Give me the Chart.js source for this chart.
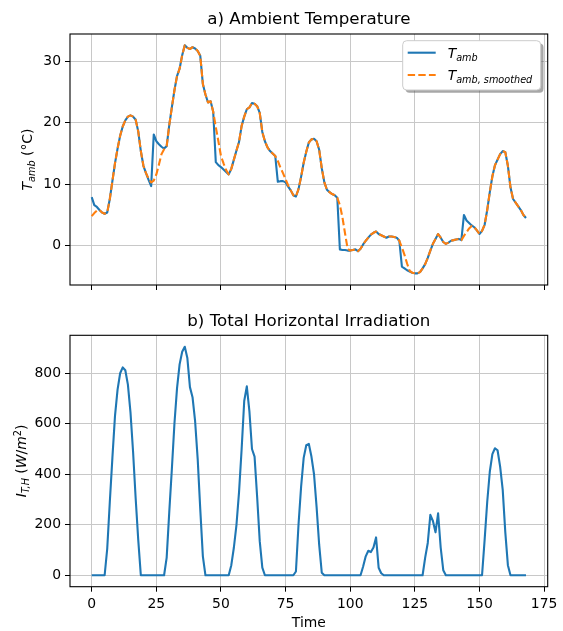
<!DOCTYPE html>
<html>
<head>
<meta charset="utf-8">
<script src="https://cdn.jsdelivr.net/npm/chart.js@4.4.1/dist/chart.umd.min.js"></script>
<style>
  body { margin: 0; background: #fff; }
  canvas { display: block; }
</style>
</head>
<body>
<canvas id="temp" width="563" height="310" style="width:563px;height:310px"></canvas>
<canvas id="irr" width="563" height="321" style="width:563px;height:321px"></canvas>
<script>
// hourly values, hour 0 .. 168 (one row per day)
const tAmb = [
  7.9, 6.6, 6.3, 5.8, 5.4, 5.2, 5.4, 7.6, 10.5, 13.4, 15.8, 17.9, 19.4, 20.4, 21.0, 21.2, 21.0, 20.5, 18.6, 15.4, 13.0, 11.8, 10.7, 9.7,
  18.1, 17.0, 16.5, 16.1, 15.8, 16.2, 19.6, 22.5, 25.3, 27.6, 28.8, 31.0, 32.6, 32.2, 32.0, 32.3, 32.1, 31.7, 30.9, 26.3, 24.6, 23.3, 23.5, 21.8,
  13.6, 13.1, 12.8, 12.4, 12.0, 11.6, 12.5, 14.0, 15.5, 16.9, 19.5, 21.0, 22.2, 22.5, 23.2, 23.1, 22.7, 21.6, 18.5, 17.0, 16.0, 15.4, 15.0, 14.6,
  10.4, 10.5, 10.5, 10.3, 9.6, 9.0, 8.2, 8.0, 9.2, 11.2, 13.5, 15.3, 16.8, 17.3, 17.4, 17.0, 15.6, 12.6, 10.3, 9.1, 8.7, 8.4, 8.2, 7.8,
  -0.6, -0.7, -0.7, -0.8, -0.8, -0.7, -0.6, -0.9, -0.5, 0.2, 0.8, 1.3, 1.8, 2.1, 2.3, 1.9, 1.7, 1.5, 1.3, 1.5, 1.5, 1.4, 1.3, 0.8,
  -3.4, -3.7, -4.0, -4.2, -4.4, -4.5, -4.5, -4.3, -3.7, -3.0, -2.0, -0.8, 0.3, 1.1, 1.9, 1.3, 0.6, 0.3, 0.5, 0.8, 0.9, 1.0, 1.1, 0.9,
  5.0, 4.1, 3.7, 3.3, 3.0, 2.5, 1.9, 2.4, 3.4, 5.8, 8.7, 11.3, 13.1, 14.0, 14.9, 15.4, 15.2, 13.0, 9.5, 7.6, 7.0, 6.4, 5.8, 5.0, 4.5
];
const tAmbSmoothed = [
  4.8, 5.3, 5.7, 5.8, 5.4, 5.2, 5.4, 7.6, 10.5, 13.4, 15.8, 17.9, 19.4, 20.4, 21.0, 21.2, 21.0, 20.5, 18.6, 15.4, 13.0, 11.8, 10.9, 10.3,
  10.6, 11.6, 13.2, 14.9, 15.7, 16.2, 19.6, 22.5, 25.3, 27.6, 28.8, 31.0, 32.6, 32.2, 32.0, 32.3, 32.1, 31.7, 30.9, 26.3, 24.6, 23.3, 23.5, 21.8,
  19.3, 17.0, 14.6, 13.4, 12.3, 11.6, 12.5, 14.0, 15.5, 16.9, 19.5, 21.0, 22.2, 22.5, 23.2, 23.1, 22.7, 21.6, 18.5, 17.0, 16.0, 15.4, 15.0, 14.6,
  13.8, 12.7, 11.8, 10.8, 9.8, 9.0, 8.2, 8.0, 9.2, 11.2, 13.5, 15.3, 16.8, 17.3, 17.4, 17.0, 15.6, 12.6, 10.3, 9.1, 8.7, 8.4, 8.2, 7.8,
  6.6, 4.6, 2.0, -0.5, -0.8, -0.7, -0.6, -0.9, -0.5, 0.2, 0.8, 1.3, 1.8, 2.1, 2.3, 1.9, 1.7, 1.5, 1.3, 1.5, 1.5, 1.4, 1.3, 0.8,
  -0.3, -1.5, -2.9, -4.1, -4.4, -4.5, -4.5, -4.3, -3.7, -3.0, -2.0, -0.8, 0.3, 1.1, 1.9, 1.3, 0.6, 0.3, 0.5, 0.8, 0.9, 1.0, 1.1, 0.9,
  1.6, 2.2, 2.8, 3.2, 3.0, 2.5, 1.9, 2.4, 3.4, 5.8, 8.7, 11.3, 13.1, 14.0, 14.9, 15.4, 15.2, 13.0, 9.5, 7.6, 7.0, 6.4, 5.8, 5.0, 4.5
];
const irradiation = [
  0, 0, 0, 0, 0, 0, 105, 290, 465, 630, 735, 800, 823, 812, 755, 645, 489, 305, 140, 0, 0, 0, 0, 0,
  0, 0, 0, 0, 0, 70, 250, 420, 600, 740, 835, 885, 905, 860, 745, 705, 610, 460, 260, 75, 0, 0, 0, 0,
  0, 0, 0, 0, 0, 0, 40, 110, 200, 330, 500, 690, 748, 650, 500, 470, 310, 135, 30, 0, 0, 0, 0, 0,
  0, 0, 0, 0, 0, 0, 0, 15, 200, 350, 465, 515, 520, 470, 400, 270, 120, 10, 0, 0, 0, 0, 0, 0,
  0, 0, 0, 0, 0, 0, 0, 0, 0, 35, 75, 97, 92, 110, 150, 30, 8, 0, 0, 0, 0, 0, 0, 0,
  0, 0, 0, 0, 0, 0, 0, 0, 0, 70, 128, 239, 215, 170, 245, 110, 20, 0, 0, 0, 0, 0, 0, 0,
  0, 0, 0, 0, 0, 0, 0, 0, 140, 290, 410, 480, 503, 495, 430, 338, 170, 40, 0, 0, 0, 0, 0, 0, 0
];
const timeTicks = [0, 25, 50, 75, 100, 125, 150, 175];
const tempTicks = [0, 10, 20, 30];
const irrTicks = [0, 200, 400, 600, 800];

const FONT = "'DejaVu Sans', sans-serif";
const BLUE = '#1f77b4';
const ORANGE = '#ff7f0e';
const SUB = 9.7;
const BASE = 13.9;

Chart.defaults.font.family = FONT;
Chart.defaults.font.size = BASE;
Chart.defaults.color = '#000';

const toXY = arr => arr.map((y, i) => ({ x: i, y }));

// draw a run of text pieces (italic / sub / superscript)
function richText(ctx, parts, x, y, align) {
  let w = 0;
  parts.forEach(p => {
    ctx.font = `${p.italic ? 'italic ' : ''}${p.size || BASE}px ${FONT}`;
    p.w = ctx.measureText(p.t).width;
    w += p.w;
  });
  let cx = align === 'center' ? x - w / 2 : x;
  parts.forEach(p => {
    ctx.font = `${p.italic ? 'italic ' : ''}${p.size || BASE}px ${FONT}`;
    ctx.fillText(p.t, cx, y + (p.dy || 0));
    cx += p.w;
  });
}

const decor = {
  id: 'decor',
  afterDraw(chart, args, opts) {
    const { ctx, chartArea: a } = chart;
    ctx.save();
    ctx.strokeStyle = '#000';
    ctx.lineWidth = 1.1;
    ctx.strokeRect(a.left, a.top, a.right - a.left, a.bottom - a.top);

    ctx.fillStyle = '#000';
    ctx.textAlign = 'left';
    ctx.textBaseline = 'alphabetic';
    const mid = (a.left + a.right) / 2;
    richText(ctx, opts.title, mid, opts.titleY, 'center');
    if (opts.xLabel) richText(ctx, opts.xLabel, mid, opts.xLabelY, 'center');

    ctx.save();
    ctx.translate(opts.yLabelX, (a.top + a.bottom) / 2);
    ctx.rotate(-Math.PI / 2);
    richText(ctx, opts.yLabel, 0, 0, 'center');
    ctx.restore();

    if (opts.legend) {
      const L = opts.legend;
      ctx.fillStyle = 'rgba(80,80,80,0.5)';
      ctx.beginPath();
      ctx.roundRect(L.x + 2.8, L.y + 2.8, L.w, L.h, 4);
      ctx.fill();
      ctx.fillStyle = '#fff';
      ctx.strokeStyle = '#cccccc';
      ctx.lineWidth = 1;
      ctx.beginPath();
      ctx.roundRect(L.x, L.y, L.w, L.h, 4);
      ctx.fill();
      ctx.stroke();
      L.items.forEach((it, i) => {
        const yc = L.y + L.rowTop + i * L.rowGap;
        ctx.strokeStyle = it.color;
        ctx.lineWidth = 2.1;
        ctx.setLineDash(it.dash || []);
        ctx.beginPath();
        ctx.moveTo(L.x + 5, yc);
        ctx.lineTo(L.x + 5 + 28, yc);
        ctx.stroke();
        ctx.setLineDash([]);
        ctx.fillStyle = '#000';
        richText(ctx, it.label, L.x + 45, yc + 5, 'left');
      });
    }
    ctx.restore();
  }
};

function axisX(showLabels, height) {
  return {
    type: 'linear',
    min: -8.4,
    max: 176.4,
    afterBuildTicks: s => { s.ticks = timeTicks.map(v => ({ value: v })); },
    afterFit: s => { s.height = height; },
    ticks: {
      autoSkip: false,
      maxRotation: 0,
      padding: 4,
      callback: v => (showLabels ? String(v) : '')
    },
    grid: { color: '#c8c8c8', lineWidth: 1, tickColor: '#000', tickLength: 5 },
    border: { display: false }
  };
}

function axisY(min, max, tickVals) {
  return {
    min,
    max,
    afterBuildTicks: s => { s.ticks = tickVals.map(v => ({ value: v })); },
    afterFit: s => { s.width = 70; },
    ticks: { padding: 4, callback: v => String(v) },
    grid: { color: '#c8c8c8', lineWidth: 1, tickColor: '#000', tickLength: 5 },
    border: { display: false }
  };
}

const common = {
  responsive: false,
  animation: false,
  events: [],
  elements: { point: { radius: 0 }, line: { tension: 0, borderWidth: 2.1, borderJoinStyle: 'round' } }
};

new Chart(document.getElementById('temp'), {
  type: 'line',
  data: {
    datasets: [
      { data: toXY(tAmb), borderColor: BLUE, order: 1 },
      { data: toXY(tAmbSmoothed), borderColor: ORANGE, borderDash: [7.4, 3.2], order: 0 }
    ]
  },
  options: {
    ...common,
    layout: { padding: { top: 34, right: 15.3, bottom: 0, left: 0 } },
    scales: { x: axisX(false, 25), y: axisY(-6.4, 34.45, tempTicks) },
    plugins: {
      legend: { display: false },
      tooltip: { enabled: false },
      decor: {
        title: [{ t: 'a) Ambient Temperature', size: 16.7 }],
        titleY: 24,
        yLabelX: 32,
        yLabel: [
          { t: 'T', italic: true },
          { t: 'amb', italic: true, size: SUB, dy: 3 },
          { t: ' (°C)' }
        ],
        legend: {
          x: 402.7, y: 40.7, w: 138, h: 49.3, rowTop: 12, rowGap: 22.3,
          items: [
            { color: BLUE, label: [{ t: 'T', italic: true }, { t: 'amb', italic: true, size: SUB, dy: 3 }] },
            { color: ORANGE, dash: [7.4, 3.2], label: [{ t: 'T', italic: true }, { t: 'amb, smoothed', italic: true, size: SUB, dy: 3 }] }
          ]
        }
      }
    }
  },
  plugins: [decor]
});

new Chart(document.getElementById('irr'), {
  type: 'line',
  data: {
    datasets: [
      { data: toXY(irradiation), borderColor: BLUE }
    ]
  },
  options: {
    ...common,
    layout: { padding: { top: 25.3, right: 15.3, bottom: 0, left: 0 } },
    scales: { x: axisX(true, 44.3), y: axisY(-45.25, 950.25, irrTicks) },
    plugins: {
      legend: { display: false },
      tooltip: { enabled: false },
      decor: {
        title: [{ t: 'b) Total Horizontal Irradiation', size: 16.7 }],
        titleY: 16,
        xLabel: [{ t: 'Time' }],
        xLabelY: 317,
        yLabelX: 26,
        yLabel: [
          { t: 'I', italic: true },
          { t: 'T,H', italic: true, size: SUB, dy: 3 },
          { t: ' (' },
          { t: 'W', italic: true },
          { t: '/' },
          { t: 'm', italic: true },
          { t: '2', size: SUB, dy: -5 },
          { t: ')' }
        ]
      }
    }
  },
  plugins: [decor]
});
</script>
</body>
</html>
